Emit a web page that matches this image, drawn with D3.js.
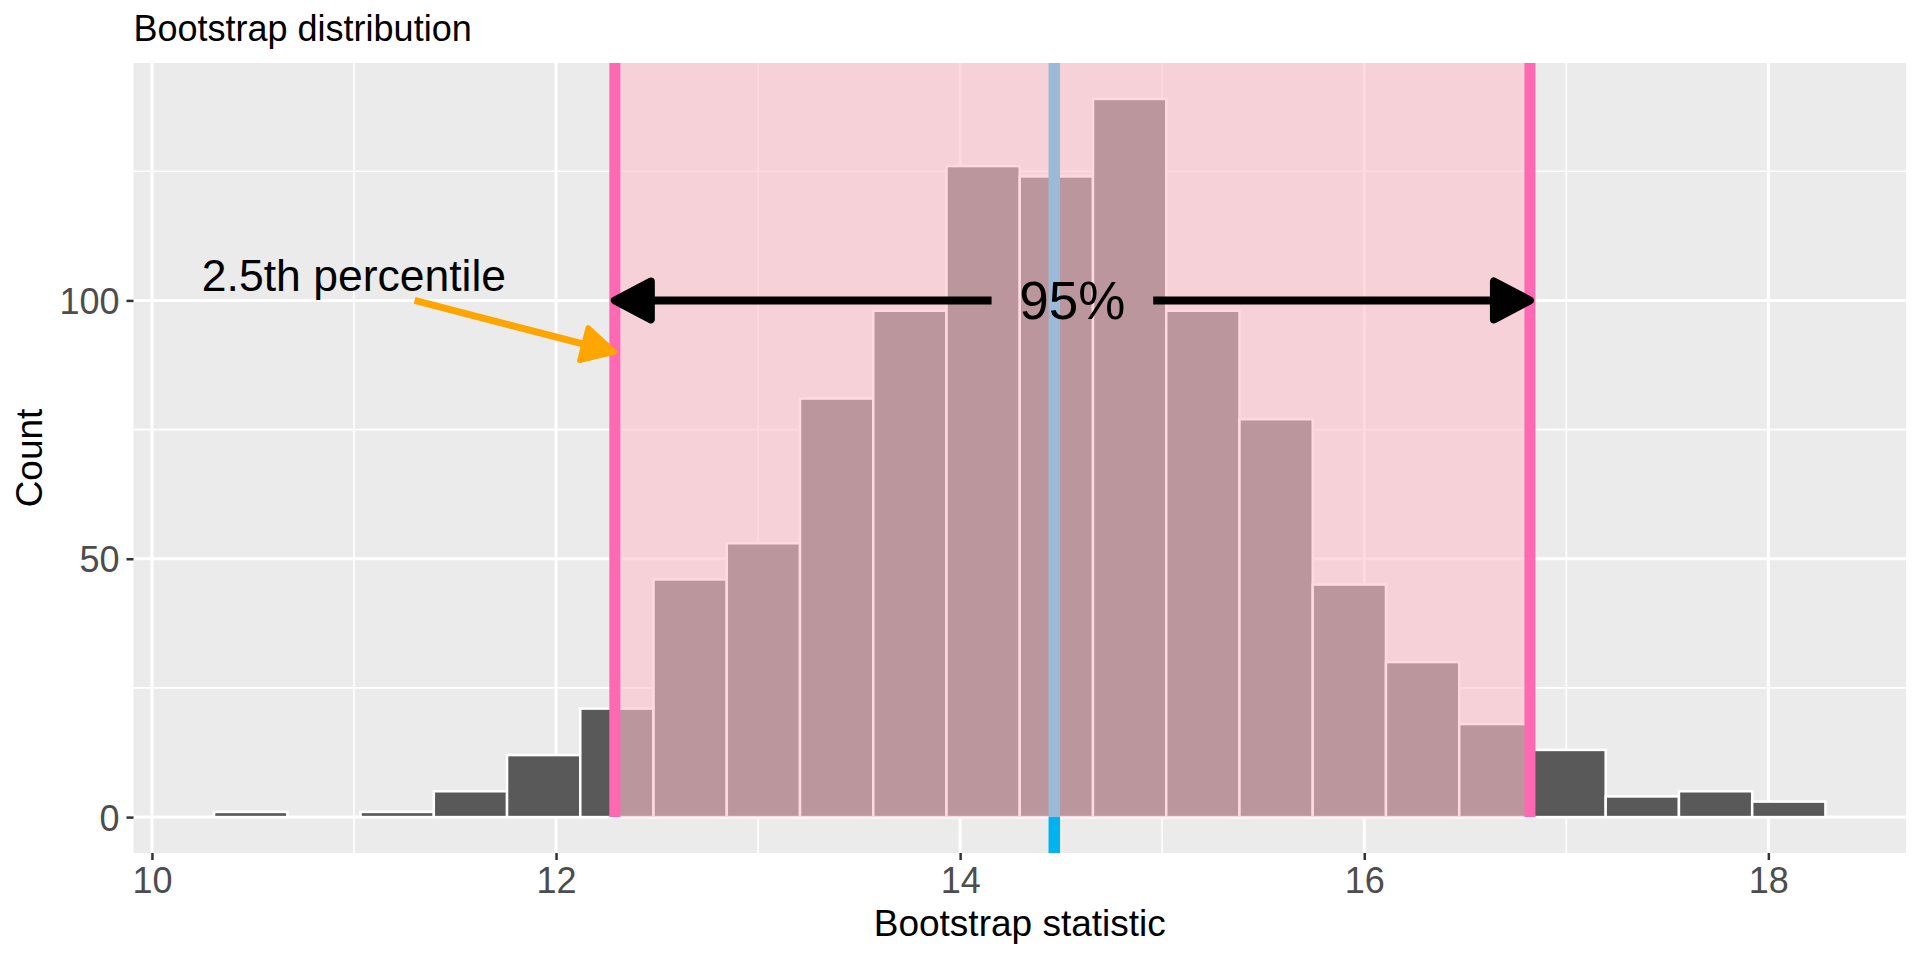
<!DOCTYPE html>
<html>
<head>
<meta charset="utf-8">
<script src="https://cdn.jsdelivr.net/npm/d3@7"></script>
<style>
  body { margin: 0; background: #fff; }
  svg { display: block; font-family: "Liberation Sans", Arial, Helvetica, sans-serif; }
</style>
</head>
<body>
<svg id="chart"></svg>
<script>
const WIDTH = 1920;
const HEIGHT = 960;

// histogram bins (edges) and counts
const binEdges = [10.3075, 10.67, 11.0325, 11.395, 11.7575, 12.12, 12.4825, 12.845,
  13.2075, 13.57, 13.9325, 14.295, 14.6575, 15.02, 15.3825, 15.745, 16.1075,
  16.47, 16.8325, 17.195, 17.5575, 17.92, 18.2825];
const counts = [1, 0, 1, 5, 12, 21, 46, 53, 81, 98, 126, 124, 139, 98, 77, 45, 30, 18, 13, 4, 5, 3];

// confidence interval and point estimate
const ciBounds = [12.291, 16.82];
const pointEstimate = 14.466;

const xTicks = [10, 12, 14, 16, 18];
const xMinor = [11, 13, 15, 17];
const yTicks = [0, 50, 100];
const yMinor = [25, 75, 125];

const ciLabel = "95%";
const pctLabel = "2.5th percentile";
const pctLabelPos = [11, 105];
const pctArrowFrom = [11.3, 100];
const pctArrowToY = 90;
const ciArrowY = 100;

const margin = { left: 133.5, right: 14, top: 63, bottom: 107 };

const bins = counts.map((c, i) => ({ x0: binEdges[i], x1: binEdges[i + 1], count: c }));

const svg = d3.select("#chart").attr("width", WIDTH).attr("height", HEIGHT);

// ggplot-style 5% expansion
const xExt = d3.extent(binEdges);
const xPad = (xExt[1] - xExt[0]) * 0.05;
const x = d3.scaleLinear()
  .domain([xExt[0] - xPad, xExt[1] + xPad])
  .range([margin.left, WIDTH - margin.right]);

const yMax = d3.max(counts);
const y = d3.scaleLinear()
  .domain([-yMax * 0.05, yMax * 1.05])
  .range([HEIGHT - margin.bottom, margin.top]);

const px0 = x.range()[0], px1 = x.range()[1];
const py0 = y.range()[1], py1 = y.range()[0];

// panel
svg.append("rect")
  .attr("x", px0).attr("y", py0)
  .attr("width", px1 - px0).attr("height", py1 - py0)
  .attr("fill", "#EBEBEB");

const grid = svg.append("g").attr("stroke", "#fff");
grid.selectAll(".xminor").data(xMinor).enter().append("line")
  .attr("x1", d => x(d)).attr("x2", d => x(d))
  .attr("y1", py0).attr("y2", py1).attr("stroke-width", 1.6);
grid.selectAll(".yminor").data(yMinor).enter().append("line")
  .attr("y1", d => y(d)).attr("y2", d => y(d))
  .attr("x1", px0).attr("x2", px1).attr("stroke-width", 1.6);
grid.selectAll(".xmajor").data(xTicks).enter().append("line")
  .attr("x1", d => x(d)).attr("x2", d => x(d))
  .attr("y1", py0).attr("y2", py1).attr("stroke-width", 3);
grid.selectAll(".ymajor").data(yTicks).enter().append("line")
  .attr("y1", d => y(d)).attr("y2", d => y(d))
  .attr("x1", px0).attr("x2", px1).attr("stroke-width", 3);

// histogram bars
svg.append("g")
  .selectAll("rect")
  .data(bins.filter(d => d.count > 0))
  .enter()
  .append("rect")
  .attr("x", d => x(d.x0))
  .attr("y", d => y(d.count))
  .attr("width", d => x(d.x1) - x(d.x0))
  .attr("height", d => y(0) - y(d.count))
  .attr("fill", "#595959")
  .attr("stroke", "#fff")
  .attr("stroke-width", 2.5);

// point estimate line
svg.append("line")
  .attr("x1", x(pointEstimate)).attr("x2", x(pointEstimate))
  .attr("y1", py0).attr("y2", py1)
  .attr("stroke", "#00B2EE")
  .attr("stroke-width", 11.5);

// CI shading
svg.append("rect")
  .attr("x", x(ciBounds[0])).attr("y", py0)
  .attr("width", x(ciBounds[1]) - x(ciBounds[0]))
  .attr("height", y(0) - py0)
  .attr("fill", "pink")
  .attr("fill-opacity", 0.6);

svg.append("g")
  .selectAll("line")
  .data(ciBounds)
  .enter()
  .append("line")
  .attr("x1", d => x(d)).attr("x2", d => x(d))
  .attr("y1", py0).attr("y2", y(0))
  .attr("stroke", "#FF69B4")
  .attr("stroke-width", 11);

// axes
const xAxis = svg.append("g")
  .attr("transform", `translate(0,${py1})`)
  .call(d3.axisBottom(x).tickValues(xTicks).tickSize(7).tickPadding(7).tickFormat(d3.format("d")));
const yAxis = svg.append("g")
  .attr("transform", `translate(${px0},0)`)
  .call(d3.axisLeft(y).tickValues(yTicks).tickSize(7).tickPadding(7).tickFormat(d3.format("d")));

[xAxis, yAxis].forEach(a => {
  a.select(".domain").remove();
  a.selectAll(".tick line").attr("stroke", "#333333").attr("stroke-width", 2.5);
  a.selectAll(".tick text")
    .attr("fill", "#4D4D4D")
    .style("font-size", "36px")
    .style("font-family", "'Liberation Sans', Arial, sans-serif");
});
xAxis.selectAll(".tick text").attr("dy", "0.72em");
yAxis.selectAll(".tick text").attr("dy", "0.36em");

// titles
svg.append("text")
  .attr("x", px0).attr("y", 41)
  .style("font-size", "36px")
  .text("Bootstrap distribution");

svg.append("text")
  .attr("x", (px0 + px1) / 2).attr("y", 936)
  .attr("text-anchor", "middle")
  .style("font-size", "37px")
  .text("Bootstrap statistic");

svg.append("text")
  .attr("transform", `translate(41.5,${(py0 + py1) / 2}) rotate(-90)`)
  .attr("text-anchor", "middle")
  .style("font-size", "37px")
  .text("Count");

// arrow helper: shaft + closed head
function arrowHead(g, tx, ty, angle, len, half, color, sw) {
  const pts = [[0, 0], [-len, -half], [-len, half]];
  g.append("polygon")
    .attr("points", pts.map(p => p.join(",")).join(" "))
    .attr("transform", `translate(${tx},${ty}) rotate(${angle})`)
    .attr("fill", color)
    .attr("stroke", color)
    .attr("stroke-width", sw)
    .attr("stroke-linejoin", "round");
}

// 95% double arrow
const ann = svg.append("g");
const ciMid = (ciBounds[0] + ciBounds[1]) / 2;
const gapHalf = 0.4;
ann.append("line")
  .attr("x1", x(ciBounds[0]) + 20).attr("x2", x(ciMid - gapHalf))
  .attr("y1", y(ciArrowY)).attr("y2", y(ciArrowY))
  .attr("stroke", "#000").attr("stroke-width", 8);
ann.append("line")
  .attr("x1", x(ciMid + gapHalf)).attr("x2", x(ciBounds[1]) - 20)
  .attr("y1", y(ciArrowY)).attr("y2", y(ciArrowY))
  .attr("stroke", "#000").attr("stroke-width", 8);
arrowHead(ann, x(ciBounds[0]), y(ciArrowY), 180, 36, 19, "#000", 8);
arrowHead(ann, x(ciBounds[1]), y(ciArrowY), 0, 36, 19, "#000", 8);

ann.append("text")
  .attr("x", x(ciMid)).attr("y", y(ciArrowY))
  .attr("dy", "0.36em")
  .attr("text-anchor", "middle")
  .style("font-size", "53px")
  .text(ciLabel);

// 2.5th percentile label and arrow
ann.append("text")
  .attr("x", x(pctLabelPos[0])).attr("y", y(pctLabelPos[1]))
  .attr("dy", "0.36em")
  .attr("text-anchor", "middle")
  .style("font-size", "44.5px")
  .text(pctLabel);

const ax0 = x(pctArrowFrom[0]), ay0 = y(pctArrowFrom[1]);
const ax1 = x(ciBounds[0]), ay1 = y(pctArrowToY);
const ang = Math.atan2(ay1 - ay0, ax1 - ax0);
ann.append("line")
  .attr("x1", ax0).attr("y1", ay0)
  .attr("x2", ax1 - 25 * Math.cos(ang)).attr("y2", ay1 - 25 * Math.sin(ang))
  .attr("stroke", "#FFA500").attr("stroke-width", 7);
arrowHead(ann, ax1, ay1, ang * 180 / Math.PI, 32, 17, "#FFA500", 5);
</script>
</body>
</html>
